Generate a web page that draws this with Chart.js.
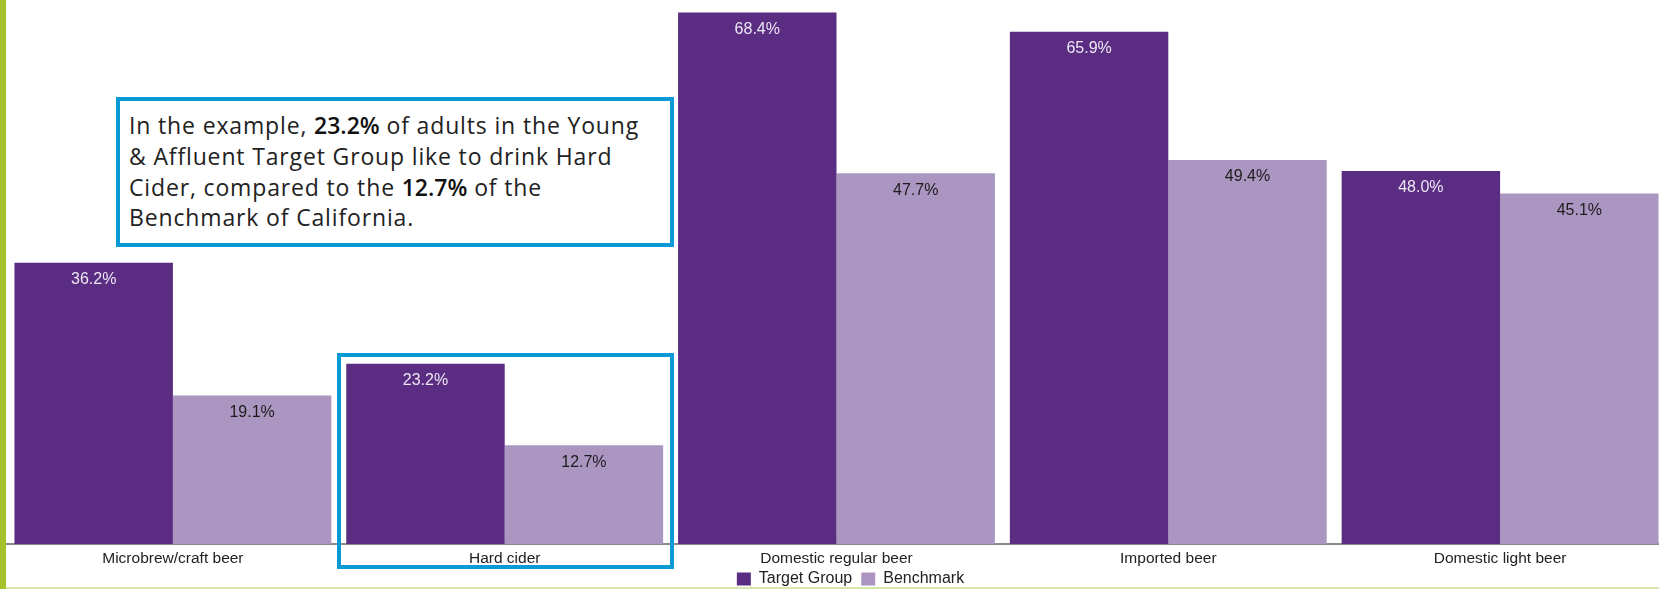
<!DOCTYPE html>
<html>
<head>
<meta charset="utf-8">
<script src="https://cdn.jsdelivr.net/npm/chart.js@4.4.1/dist/chart.umd.min.js"></script>
<style>
    html, body { margin: 0; padding: 0; background: #fff; overflow: hidden; width: 1659px; height: 589px; }
    #wrap { position: relative; width: 1659px; height: 589px; overflow: hidden; }
    #grafico { position: absolute; left: 0; top: 0; }
    .bordeVerde { position: absolute; left: 0; top: 0; width: 6px; height: 589px; background: #a5c22a; }
    .lineaAbajo { position: absolute; left: 6px; top: 587px; width: 1653px; height: 2px; background: #d7e6aa; }
    .nota {
        position: absolute; left: 116px; top: 97px; width: 558px; height: 150px;
        box-sizing: border-box; border: 4px solid #0a9ad6; background: #fff;
        padding: 9px 0 0 9px; font-family: 'Open Sans', Lato, sans-serif; font-size: 23px;
        letter-spacing: 0.85px; line-height: 30.8px; color: #222; white-space: nowrap;
    }
    .nota b { font-weight: 600; color: #111; letter-spacing: 0; }
    .marco {
        position: absolute; left: 337px; top: 353px; width: 337px; height: 216px;
        box-sizing: border-box; border: 4px solid #0a9ad6;
    }
</style>
</head>
<body>
<div id="wrap">
    <canvas id="grafico" width="1694" height="605"></canvas>
    <div class="bordeVerde"></div>
    <div class="lineaAbajo"></div>
    <div class="nota">In the example, <b>23.2%</b> of adults in the Young<br>&amp; Affluent Target Group like to drink Hard<br>Cider, compared to the <b>12.7%</b> of the<br>Benchmark of California.</div>
    <div class="marco"></div>
</div>
<script>
var categorias = ['Microbrew/craft beer', 'Hard cider', 'Domestic regular beer', 'Imported beer', 'Domestic light beer'];
var targetGroup = [36.2, 23.2, 68.4, 65.9, 48.0];
var benchmark = [19.1, 12.7, 47.7, 49.4, 45.1];

var colorTarget = '#5a2d82';
var colorBench = '#ab96c2';
var fuente = "'Liberation Sans', Arial, sans-serif";

// etiquetas de valor dentro de cada barra
var etiquetas = {
    id: 'etiquetas',
    afterDatasetsDraw: function (chart) {
        var ctx = chart.ctx;
        ctx.save();
        ctx.font = '16px ' + fuente;
        ctx.textAlign = 'center';
        ctx.textBaseline = 'middle';
        chart.data.datasets.forEach(function (ds, i) {
            var meta = chart.getDatasetMeta(i);
            ctx.fillStyle = i === 0 ? '#ece6f3' : '#1c1c1c';
            meta.data.forEach(function (bar, j) {
                ctx.fillText(ds.data[j].toFixed(1) + '%', bar.x, bar.y + 17);
            });
        });
        ctx.restore();
    }
};

// sube un poco la leyenda, queda pegada a las etiquetas del eje
var subirLeyenda = {
    id: 'subirLeyenda',
    afterLayout: function (chart) {
        chart.legend.top -= 8;
        chart.legend.bottom -= 8;
    }
};

var ctx = document.getElementById('grafico');
var grafico = new Chart(ctx, {
    type: 'bar',
    data: {
        labels: categorias,
        datasets: [{
            label: 'Target Group',
            data: targetGroup,
            backgroundColor: colorTarget,
            borderWidth: 0,
        }, {
            label: 'Benchmark',
            data: benchmark,
            backgroundColor: colorBench,
            borderWidth: 0,
        }],
    },
    options: {
        responsive: false,
        animation: false,
        devicePixelRatio: 1,
        categoryPercentage: 0.955,
        barPercentage: 1,
        layout: { padding: { left: 7, right: 0, top: 0, bottom: 0 } },
        plugins: {
            tooltip: { enabled: false },
            legend: {
                position: 'bottom',
                labels: {
                    boxWidth: 14,
                    boxHeight: 13,
                    padding: 9,
                    color: '#222',
                    font: { family: fuente, size: 16 },
                },
            },
        },
        scales: {
            x: {
                grid: { display: false, drawTicks: false },
                border: { display: true, color: '#8a8a8a', width: 2 },
                ticks: { color: '#222', padding: 5, font: { family: fuente, size: 15.5 } },
                afterFit: function (eje) { eje.height = 26; },
            },
            y: {
                position: 'right',
                min: 0,
                max: 70,
                grid: { display: false, drawTicks: false },
                border: { display: false },
                ticks: { display: false },
                afterFit: function (eje) { eje.width = 28; },
            },
        },
    },
    plugins: [etiquetas, subirLeyenda],
});
</script>
</body>
</html>
